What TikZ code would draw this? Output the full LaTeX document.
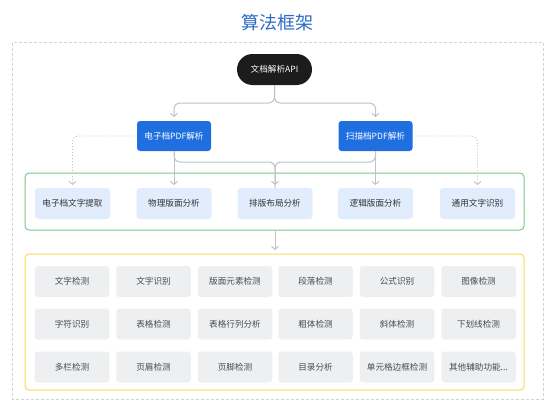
\documentclass[tikz,border=0pt]{standalone}
\usepackage{fontspec}
\setmainfont{Noto Sans CJK SC}
\usetikzlibrary{arrows.meta}
\definecolor{titleblue}{HTML}{2C6BC6}
\definecolor{btnblue}{HTML}{1F6FE0}
\definecolor{lightblue}{HTML}{E1EDFC}
\definecolor{lightgray}{HTML}{EEEFF1}
\definecolor{greenb}{HTML}{74C98A}
\definecolor{yellowb}{HTML}{FFD45A}
\definecolor{framegray}{HTML}{D3D3D3}
\definecolor{linegray}{HTML}{BEC2C8}
\definecolor{apiblack}{HTML}{1C1C1C}
\definecolor{txtdark}{HTML}{333333}
\definecolor{txtgray}{HTML}{4A4A4A}
\newcommand\myotherfn{其他辅助功能...}
\begin{document}
\begin{tikzpicture}[x=1pt,y=-1pt,
  every node/.style={inner sep=0pt,outer sep=0pt},
  smallfont/.style={font=\fontsize{8.6}{10}\selectfont},
  apinode/.style={smallfont,fill=apiblack,rounded corners=15.5pt,minimum width=75pt,minimum height=31pt,text=white},
  bluebox/.style={smallfont,fill=btnblue,rounded corners=3pt,minimum width=74pt,minimum height=30pt,text=white},
  lbbox/.style={smallfont,fill=lightblue,rounded corners=3pt,minimum width=75pt,minimum height=31pt,text=txtdark},
  graybox/.style={smallfont,fill=lightgray,rounded corners=3pt,minimum width=74.5pt,minimum height=31pt,text=txtgray},
  conn/.style={draw=linegray,line width=1pt,rounded corners=6pt},
  arr/.style={-{Straight Barb[length=3pt,width=7pt]}},
  dotconn/.style={draw=linegray,line width=0.9pt,dash pattern=on 1pt off 2pt,rounded corners=6pt},
  panel/.style={rounded corners=4pt,line width=1pt},
]
\useasboundingbox (0,0) rectangle (555,407);

% title
\node[font=\fontsize{18}{20}\selectfont,text=titleblue] (title) at (277.5,22.5) {算法框架};

% outer dashed frame
\draw[framegray,line width=0.9pt,dash pattern=on 3pt off 2pt] (12.5,42.5) rectangle (543,399);

% API and PDF boxes
\node[apinode] (api) at (274.5,69.5) {文档解析API};
\node[bluebox] (lb) at (174,136) {电子档PDF解析};
\node[bluebox] (rb) at (375.5,136) {扫描档PDF解析};

% green panel
\draw[greenb,panel] (25,173) rectangle (524,230);
\coordinate (gbot) at (275,230);
\node[lbbox] (e1) at (72.5,203.5) {电子档文字提取};
\node[lbbox] (e2) at (174,203.5) {物理版面分析};
\node[lbbox] (e3) at (275,203.5) {排版布局分析};
\node[lbbox] (e4) at (375.5,203.5) {逻辑版面分析};
\node[lbbox] (e5) at (477.5,203.5) {通用文字识别};

% yellow panel
\draw[yellowb,panel] (25,254) rectangle (524,390);
\coordinate (ytop) at (275,254);

\foreach \r/\y/\la/\lb/\lc/\ld/\le/\lf in {
  1/281.5/文字检测/文字识别/版面元素检测/段落检测/公式识别/图像检测,
  2/324/字符识别/表格检测/表格行列分析/粗体检测/斜体检测/下划线检测,
  3/367/多栏检测/页眉检测/页脚检测/目录分析/单元格边框检测/\myotherfn}{
  \node[graybox] (g\r a) at (72,\y) {\la};
  \node[graybox] (g\r b) at (153.5,\y) {\lb};
  \node[graybox] (g\r c) at (235,\y) {\lc};
  \node[graybox] (g\r d) at (315.5,\y) {\ld};
  \node[graybox] (g\r e) at (397,\y) {\le};
  \node[graybox] (g\r f) at (478.5,\y) {\lf};
}

% junction coordinates
\coordinate (j1) at (275,103);
\coordinate (j2) at (275,162);

% API to PDF boxes
\draw[conn,arr,shorten >=4pt] (api.south) -- (api.south |- j1) -- (lb.north |- j1) -- (lb.north);
\draw[conn,arr,shorten >=4pt] (api.south) -- (api.south |- j1) -- (rb.north |- j1) -- (rb.north);

% PDF boxes to green panel
\draw[conn,arr,shorten >=3pt] (lb.south) -- (e2.north);
\draw[conn,arr,shorten >=3pt] (rb.south) -- (e4.north);
\draw[conn] (lb.south) -- (lb.south |- j2) -- (j2) -- (e3.north);
\draw[conn,arr,shorten >=3pt] (rb.south) -- (rb.south |- j2) -- (j2) -- (e3.north);

% dotted side connectors
\draw[dotconn,arr,shorten >=3pt] (lb.west) -| (e1.north);
\draw[dotconn,arr,shorten >=3pt] (rb.east) -| (e5.north);

% green panel to yellow panel
\draw[conn,arr,shorten >=4pt] (gbot) -- (ytop);
\end{tikzpicture}
\end{document}
